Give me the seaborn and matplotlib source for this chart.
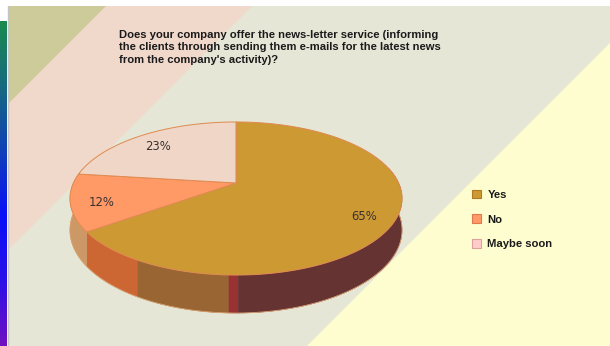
import numpy as np
import matplotlib
matplotlib.use("Agg")
import matplotlib.pyplot as plt
from matplotlib.patches import Polygon, Rectangle, Patch
from matplotlib.colors import LinearSegmentedColormap
import seaborn as sns

# ---- data -------------------------------------------------------------
categories = ["Yes", "No", "Maybe soon"]
shares = [65, 12, 23]
pct_labels = ["65%", "12%", "23%"]
title_text = ("Does your company offer the news-letter service (informing\n"
              "the clients through sending them e-mails for the latest news\n"
              "from the company's activity)?")

# ---- style ------------------------------------------------------------
top_colors = sns.color_palette(["#cc9933", "#ff9966", "#f0d6c6"])
legend_colors = ["#cc9933", "#ff9966", "#ffcccc"]
legend_edges = ["#b07a20", "#e07850", "#e0a0a0"]
# wall shading per slice: list of (upper angle bound, colour) going around the front
wall_tones = [
    [(240, "#cc6633"), (268, "#996633"), (270.6, "#993333"), (999, "#663333")],
    [(999, "#cc9966")],
    [(999, "#d9b49a")],
]

sns.set_theme(style="white")
plt.rcParams["font.family"] = ["Liberation Sans", "DejaVu Sans"]

W, H = 610, 346
fig = plt.figure(figsize=(W / 100, H / 100), dpi=100)
ax = fig.add_axes([0, 0, 1, 1])
ax.set_xlim(0, W)
ax.set_ylim(H, 0)
ax.axis("off")
fig.patch.set_facecolor("white")

# ---- diagonal banded backdrop --------------------------------------------
x0, y0 = 8, 6
frame = Rectangle((x0, y0), W - x0 + 5, H - y0 + 5, transform=ax.transData)
ax.add_patch(Rectangle((x0, y0), W - x0 + 5, H - y0 + 5, facecolor="#fefdd0",
                       edgecolor="none", zorder=0))
for bound, col in [(653, "#e5e6d6"), (258, "#f0d8cb"), (112, "#cdcb9a")]:
    tri = Polygon([(-3000, -3000), (bound + 3000, -3000), (-3000, bound + 3000)],
                  closed=True, facecolor=col, edgecolor="none", zorder=0.5)
    ax.add_patch(tri)
    tri.set_clip_path(frame)

# colour strip on the left edge
strip_cmap = LinearSegmentedColormap.from_list(
    "strip", ["#1a8a50", "#176a80", "#1040b8", "#0a10f8", "#2a10e8", "#7010c0"])
ax.imshow(np.linspace(0, 1, 200).reshape(-1, 1), cmap=strip_cmap, aspect="auto",
          extent=[0, 6.5, H, 21], zorder=1, interpolation="bilinear")
ax.plot([7.5, 7.5], [y0, H], color="#c4c4c4", lw=1.0, zorder=1)
ax.set_xlim(0, W)
ax.set_ylim(H, 0)

# ---- perspective pie ---------------------------------------------------
CX, CY = 236, 183          # projected centre of the disc
RA, RB = 162.6, 73.4       # horizontal / vertical reach
PERSP = 0.2026             # foreshortening of the far side
DEPTH = 30.3               # wall height


def project(theta, r=1.0, drop=0.0):
    t = np.radians(theta)
    u, v = r * np.cos(t), r * np.sin(t)
    s = 1.0 / (1.0 + PERSP * v)
    return CX + RA * u * s, CY - RB * v * s + drop * s


fracs = np.array(shares, dtype=float) / np.sum(shares)
ends = 90 - 360 * np.cumsum(fracs)
starts = np.concatenate([[90], ends[:-1]])
# each slice as an increasing angle interval [lo, hi], drawn clockwise from 12 o'clock
intervals = []
for s, e in zip(starts, ends):
    lo, hi = e, s
    while lo < 0:
        lo += 360
        hi += 360
    intervals.append((lo, hi))

# walls (only the front half can be seen)
VIS_LO, VIS_HI = 168, 372
for idx, (lo, hi) in enumerate(intervals):
    a0, a1 = max(lo, VIS_LO), min(hi, VIS_HI)
    if a0 >= a1:
        continue
    prev = a0
    for bound, col in wall_tones[idx]:
        b = min(bound, a1)
        if b > prev:
            th = np.linspace(prev, b, 60)
            topx, topy = project(th)
            botx, boty = project(th[::-1], drop=DEPTH)
            pts = np.column_stack([np.concatenate([topx, botx]),
                                   np.concatenate([topy, boty])])
            ax.add_patch(Polygon(pts, closed=True, facecolor=col,
                                 edgecolor=col, lw=0.3, zorder=3))
            prev = b
        if prev >= a1:
            break

# bottom rim line
th = np.linspace(VIS_LO + 12, VIS_HI - 12, 200)
bx, by = project(th, drop=DEPTH)
ax.plot(bx, by, color="#d8a070", lw=0.6, zorder=3.5)

# top faces
for idx, (lo, hi) in enumerate(intervals):
    th = np.linspace(lo, hi, 200)
    ex, ey = project(th)
    pts = np.column_stack([np.concatenate([[CX], ex]), np.concatenate([[CY], ey])])
    ax.add_patch(Polygon(pts, closed=True, facecolor=top_colors[idx],
                         edgecolor="#e08a50", lw=0.7, zorder=4))

# percentage labels
for idx, (lo, hi) in enumerate(intervals):
    lx, ly = project((lo + hi) / 2, r=0.82)
    ax.text(lx, ly + 4, pct_labels[idx], ha="center", va="center", fontsize=8.4,
            family="DejaVu Sans", color="#3a3030", zorder=5)

# ---- title -----------------------------------------------------------
ax.text(119, 29.5, title_text, ha="left", va="top", fontsize=8.1,
        fontweight="bold", color="#1a1a1a", linespacing=1.32, zorder=5)

# ---- legend ----------------------------------------------------------
handles = [Patch(facecolor=c, edgecolor=e, lw=0.8, label=l)
           for c, e, l in zip(legend_colors, legend_edges, categories)]
leg = ax.legend(handles=handles, loc="upper left",
                bbox_to_anchor=(467 / W, 1 - 185 / H), frameon=False,
                fontsize=8.1, handlelength=0.8, handleheight=0.8,
                handletextpad=0.6, labelspacing=1.3, borderaxespad=0)
for t in leg.get_texts():
    t.set_fontweight("bold")
    t.set_color("#1a1a1a")

fig.savefig("out.png", dpi=100)
